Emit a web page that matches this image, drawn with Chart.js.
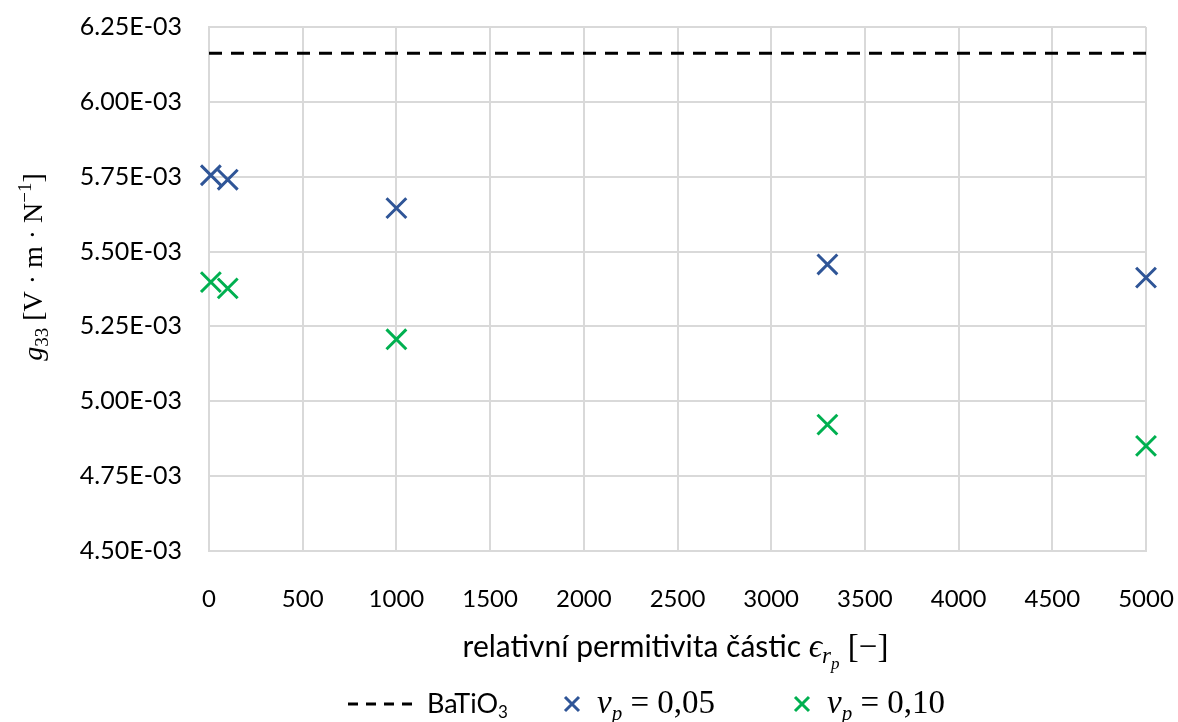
<!DOCTYPE html>
<html>
<head>
<meta charset="utf-8">
<script src="https://cdn.jsdelivr.net/npm/chart.js@4.4.1/dist/chart.umd.min.js"></script>
<style>
html,body{margin:0;padding:0;background:#fff;}
#wrap{width:1178px;height:722px;position:relative;}
</style>
</head>
<body>
<div id="wrap"><canvas id="c" width="1178" height="722"></canvas></div>
<script>
// ---- data ----
const epsX = [10, 100, 1000, 3300, 5000];
const g33_vp005 = [5.755e-3, 5.740e-3, 5.645e-3, 5.457e-3, 5.413e-3];
const g33_vp010 = [5.398e-3, 5.377e-3, 5.207e-3, 4.922e-3, 4.851e-3];
const batioX = [0, 5000];
const batioY = [6.162e-3, 6.162e-3];
const yTicks = [4.50e-3, 4.75e-3, 5.00e-3, 5.25e-3, 5.50e-3, 5.75e-3, 6.00e-3, 6.25e-3];
const xTicks = [0, 500, 1000, 1500, 2000, 2500, 3000, 3500, 4000, 4500, 5000];
const seriesNames = ['BaTiO3', 'vp = 0,05', 'vp = 0,10'];
const legendValues = ['0,05', '0,10'];

const BLUE = '#2F5597', GREEN = '#00B050', GRID = '#D9D9D9';
const SANS = "Lato, 'Noto Sans', sans-serif";
const SERIF = "'Liberation Serif', 'DejaVu Serif', serif";

function fmtE(v){
  const e = Math.floor(Math.log10(Math.abs(v)) + 1e-9);
  const m = v / Math.pow(10, e);
  const sign = e < 0 ? '-' : '+';
  const ea = Math.abs(e);
  return m.toFixed(2) + 'E' + sign + (ea < 10 ? '0' : '') + ea;
}

function drawRich(ctx, segs, x, y){
  let w = 0;
  segs.forEach(s => { ctx.font = s.font; s.w = ctx.measureText(s.t).width; w += s.w; });
  let cx = x - w/2;
  segs.forEach(s => {
    ctx.font = s.font; ctx.fillStyle = s.color || '#000';
    ctx.textAlign = 'left'; ctx.textBaseline = 'alphabetic';
    ctx.fillText(s.t, cx, y + (s.dy || 0));
    cx += s.w;
  });
  return w;
}
function drawRichLeft(ctx, segs, x, y){
  let cx = x;
  segs.forEach(s => {
    ctx.font = s.font; ctx.fillStyle = s.color || '#000';
    ctx.textAlign = 'left'; ctx.textBaseline = 'alphabetic';
    ctx.fillText(s.t, cx, y + (s.dy || 0));
    cx += ctx.measureText(s.t).width;
  });
  return cx;
}

const titlesPlugin = {
  id: 'titles',
  afterDraw(chart){
    const ctx = chart.ctx, a = chart.chartArea;
    ctx.save();
    // x-axis title
    drawRich(ctx, [
      {t:'relativní permitivita částic ', font:'30px ' + SANS},
      {t:'ϵ', font:'italic 33px ' + SERIF},
      {t:'r', font:'italic 23px ' + SERIF, dy:6},
      {t:'p', font:'italic 17px ' + SERIF, dy:12},
      {t:' [−]', font:'33px ' + SERIF}
    ], (a.left + a.right)/2 - 2, a.bottom + 106);
    // y-axis title (rotated)
    ctx.save();
    ctx.translate(42, (a.top + a.bottom)/2 - 22);
    ctx.rotate(-Math.PI/2);
    drawRich(ctx, [
      {t:'g', font:'italic 28px ' + SERIF},
      {t:'33', font:'19px ' + SERIF, dy:6},
      {t:' [V · m · N', font:'28px ' + SERIF},
      {t:'−1', font:'19px ' + SERIF, dy:-11},
      {t:']', font:'28px ' + SERIF}
    ], 0, 0);
    ctx.restore();

    // legend
    const ly = 704, base = 713;
    const ds = chart.data.datasets;
    ctx.strokeStyle = ds[0].borderColor; ctx.lineWidth = 3; ctx.setLineDash([10,8]);
    ctx.beginPath(); ctx.moveTo(348, ly); ctx.lineTo(412, ly); ctx.stroke();
    ctx.setLineDash([]);
    drawRichLeft(ctx, [
      {t:'BaTiO', font:'27px ' + SANS},
      {t:'3', font:'17px ' + SANS, dy:5}
    ], 427, base);
    [[1, 572], [2, 802]].forEach(([i, mx], k) => {
      ctx.strokeStyle = ds[i].borderColor; ctx.lineWidth = 3;
      ctx.beginPath();
      ctx.moveTo(mx-7, ly-7); ctx.lineTo(mx+7, ly+7);
      ctx.moveTo(mx+7, ly-7); ctx.lineTo(mx-7, ly+7);
      ctx.stroke();
      drawRichLeft(ctx, [
        {t:'v', font:'italic 33px ' + SERIF},
        {t:'p', font:'italic 21px ' + SERIF, dy:7},
        {t:' = ' + legendValues[k], font:'33px ' + SERIF}
      ], mx + 25, base);
    });
    ctx.restore();
  }
};

const chart = new Chart(document.getElementById('c'), {
  type: 'scatter',
  data: {
    datasets: [
      {
        label: seriesNames[0], type: 'line',
        data: batioX.map((x, i) => ({x, y: batioY[i]})),
        borderColor: '#000', borderWidth: 3, borderDash: [13, 9],
        pointRadius: 0, fill: false, clip: false, order: 0
      },
      {
        label: seriesNames[1],
        data: epsX.map((x, i) => ({x, y: g33_vp005[i]})),
        pointStyle: 'crossRot', pointRadius: 14, borderWidth: 3,
        borderColor: BLUE, backgroundColor: BLUE, clip: false
      },
      {
        label: seriesNames[2],
        data: epsX.map((x, i) => ({x, y: g33_vp010[i]})),
        pointStyle: 'crossRot', pointRadius: 14, borderWidth: 3,
        borderColor: GREEN, backgroundColor: GREEN, clip: false
      }
    ]
  },
  options: {
    responsive: false, animation: false, events: [],
    layout: { padding: { top: 27, right: 32, left: 0, bottom: 111 } },
    plugins: { legend: { display: false }, tooltip: { enabled: false }, title: { display: false } },
    scales: {
      x: {
        type: 'linear', min: 0, max: 5000,
        afterBuildTicks: s => { s.ticks = xTicks.map(v => ({value: v})); },
        afterFit: s => { s.height = 60; s.paddingLeft = 0; s.paddingRight = 0; },
        grid: { color: GRID, lineWidth: 2, drawTicks: false },
        border: { color: GRID, width: 2 },
        ticks: { padding: 34, color: '#000', font: { family: SANS, size: 24 }, maxRotation: 0, autoSkip: false,
                 callback: v => String(v) }
      },
      y: {
        type: 'linear', min: yTicks[0], max: yTicks[yTicks.length - 1],
        afterBuildTicks: s => { s.ticks = yTicks.map(v => ({value: v})); },
        afterFit: s => { s.width = 209; s.paddingTop = 0; s.paddingBottom = 0; },
        grid: { color: GRID, lineWidth: 2, drawTicks: false },
        border: { color: GRID, width: 2 },
        ticks: { padding: 27, color: '#000', font: { family: SANS, size: 25 }, callback: v => fmtE(v) }
      }
    }
  },
  plugins: [titlesPlugin]
});
</script>
</body>
</html>
